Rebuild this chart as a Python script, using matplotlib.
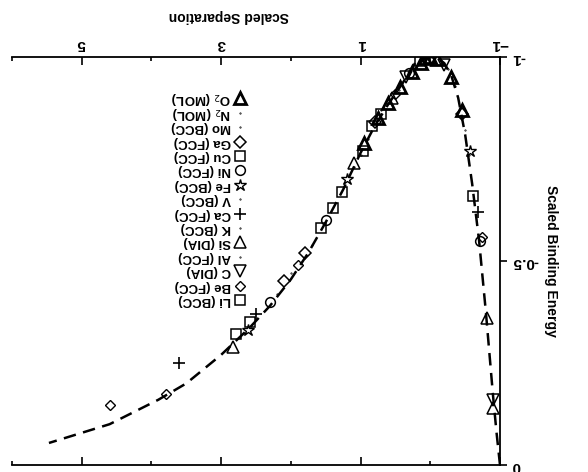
import numpy as np
import matplotlib
matplotlib.use("Agg")
import matplotlib.pyplot as plt

plt.rcParams['font.family'] = ['Liberation Sans', 'DejaVu Sans']

# dashed reference curve (scaled separation, scaled energy)
curve_a = [-1.0, -0.95, -0.9, -0.8, -0.7, -0.6, -0.5, -0.4, -0.3, -0.2, -0.1, 0.0,
           0.2, 0.4, 0.6, 0.8, 1.0, 1.25, 1.5, 1.75, 2.0, 2.3, 2.6, 3.0, 3.5, 3.9, 4.6, 5.47]
curve_E = [0.0, -0.08, -0.17, -0.37, -0.55, -0.69, -0.81, -0.90, -0.955, -0.985, -0.998, -1.0,
           -0.99, -0.935, -0.885, -0.83, -0.765, -0.675, -0.595, -0.52, -0.455, -0.39, -0.335, -0.27,
           -0.2, -0.16, -0.1, -0.054]

# measured points per solid
species = ["Li (BCC)", "Be (FCC)", "C (DIA)", "Al (FCC)", "Si (DIA)", "K (BCC)", "Ca (FCC)",
           "V (BCC)", "Fe (BCC)", "Ni (FCC)", "Cu (FCC)", "Ga (FCC)", "Mo (BCC)",
           r"N$_2$ (MOL)", r"O$_2$ (MOL)"]

li_a = [0.83, 1.39, 2.79, 0.7]
li_E = [-0.83, -0.63, -0.32, -0.86]
be_a = [-0.74, 3.79, 4.6, 1.9, 0.5]
be_E = [-0.56, -0.174, -0.147, -0.49, -0.91]
c_a = [-0.9, 0.35, -0.2]
c_E = [-0.16, -0.95, -0.98]
al_a = [-0.55, 0.7, 1.7]
al_E = [-0.76, -0.87, -0.54]
si_a = [-0.9, -0.81, 2.83, 0.55, 1.1]
si_E = [-0.14, -0.36, -0.29, -0.9, -0.74]
k_a = [-0.5, 1.1, 2.2]
k_E = [-0.82, -0.73, -0.42]
ca_a = [-0.69, 3.6, 2.5]
ca_E = [-0.62, -0.25, -0.37]
v_a = [-0.35, 0.9, 2.0]
v_E = [-0.93, -0.8, -0.47]
fe_a = [-0.57, 2.61, 1.2]
fe_E = [-0.77, -0.331, -0.7]
ni_a = [-0.71, 1.5, 2.3, 0.3]
ni_E = [-0.55, -0.6, -0.4, -0.96]
cu_a = [-0.61, 0.97, 1.26, 1.57, 2.58, 0.15]
cu_E = [-0.66, -0.77, -0.67, -0.58, -0.35, -0.99]
ga_a = [-0.45, 1.8, 2.1, 0.8]
ga_E = [-0.86, -0.52, -0.45, -0.84]
mo_a = [-0.25, 0.3, 1.0]
mo_E = [-0.97, -0.96, -0.76]
n2_a = [-0.15, 0.1, 0.45]
n2_E = [-0.99, -0.99, -0.92]
o2_a = [-0.46, -0.29, -0.1, 0.0, 0.07, 0.14, 0.26, 0.43, 0.6, 0.75, 0.95]
o2_E = [-0.87, -0.951, -0.995, -1.0, -0.998, -0.985, -0.963, -0.926, -0.887, -0.85, -0.79]

sets = [(li_a, li_E), (be_a, be_E), (c_a, c_E), (al_a, al_E), (si_a, si_E), (k_a, k_E),
        (ca_a, ca_E), (v_a, v_E), (fe_a, fe_E), (ni_a, ni_E), (cu_a, cu_E), (ga_a, ga_E),
        (mo_a, mo_E), (n2_a, n2_E), (o2_a, o2_E)]
styles = [dict(marker='s', ms=7, mew=1.1), dict(marker='D', ms=5.5, mew=1.0),
          dict(marker='v', ms=8, mew=1.1), dict(marker='.', ms=2, mew=0.5),
          dict(marker='^', ms=8, mew=1.1), dict(marker='.', ms=2, mew=0.5),
          dict(marker='+', ms=9, mew=1.2), dict(marker='.', ms=2, mew=0.5),
          dict(marker='*', ms=9, mew=1.0), dict(marker='o', ms=7, mew=1.1),
          dict(marker='s', ms=7, mew=1.1), dict(marker='D', ms=6, mew=1.1),
          dict(marker='.', ms=2, mew=0.5), dict(marker='.', ms=2, mew=0.5),
          dict(marker='^', ms=9, mew=2.0)]

fig = plt.figure(figsize=(5.88, 4.72), dpi=100)
ax = fig.add_axes([12/588, 1 - 465/472, 488/588, 408/472])

ax.plot(curve_a, curve_E, color='black', ls=(0, (5, 3)), lw=1.8, zorder=1)
for (xs, ys), st in zip(sets, styles):
    ax.plot(xs, ys, ls='none', mfc='none', mec='black', color='black', zorder=3, **st)

# picture is turned upside down
ax.set_xlim(6, -1)
ax.set_ylim(0, -1)
ax.xaxis.tick_top()
ax.xaxis.set_label_position('top')
ax.yaxis.tick_right()
ax.yaxis.set_label_position('right')
ax.set_xticks([-1, 1, 3, 5])
ax.set_xticks(range(-1, 7), minor=True)
ax.set_yticks([0, -0.5, -1])
ax.set_yticklabels(['0', '-0.5', '-1'])
ax.tick_params(axis='x', which='both', direction='in', top=True, bottom=True, width=1.2)
ax.tick_params(axis='x', which='major', length=6, labelsize=11, pad=4)
ax.tick_params(axis='x', which='minor', length=3)
ax.tick_params(axis='y', direction='out', length=5, width=1.2, labelsize=11)
for t in ax.get_xticklabels() + ax.get_yticklabels():
    t.set_rotation(180)
    t.set_fontweight('bold')
ax.spines['left'].set_visible(False)
for s in ['top', 'right', 'bottom']:
    ax.spines[s].set_linewidth(1.3)

ax.set_xlabel('Scaled Separation', rotation=180, fontsize=10, fontweight='bold', labelpad=8)
ax.xaxis.set_label_coords(0.445, 1.09)
ax.set_ylabel('Scaled Binding Energy', rotation=270, fontsize=10, fontweight='bold', va='center')
ax.yaxis.set_label_coords(1.105, 0.5)

# hand-made legend, upside down
for i, (name, st) in enumerate(zip(species, styles)):
    y = (465 - 300 + i * 14.4) / 408
    ax.plot([(240 - 12) / 488], [y], transform=ax.transAxes, ls='none', mfc='none',
            mec='black', color='black', clip_on=False, **st)
    ax.text((231 - 12) / 488, y, name, transform=ax.transAxes, rotation=180,
            ha='right', va='center', fontsize=9.5, fontweight='bold')

fig.savefig('out.png', dpi=100)
